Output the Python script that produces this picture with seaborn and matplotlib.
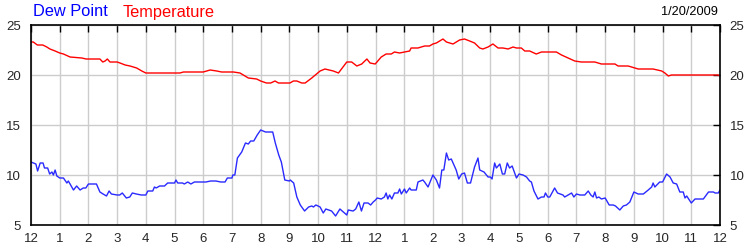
import numpy as np
import pandas as pd
import matplotlib
matplotlib.use("Agg")
import matplotlib.pyplot as plt
import seaborn as sns

# ---- data (hours since midnight, degrees) ----
dew_hours = [0, 0.09, 0.17, 0.23, 0.32, 0.42, 0.47, 0.58, 0.65, 0.73, 0.78, 0.84, 0.90, 1.0,
             1.13, 1.25, 1.30, 1.48, 1.59, 1.71, 1.82, 1.91, 2.0, 2.28, 2.40, 2.51, 2.63, 2.72,
             2.80, 3.0, 3.09, 3.18, 3.32, 3.44, 3.53, 3.67, 3.84, 4.0, 4.07, 4.24, 4.30, 4.36,
             4.48, 4.65, 4.76, 5.0, 5.05, 5.11, 5.28, 5.34, 5.46, 5.57, 5.69, 6.0, 6.09, 6.26,
             6.44, 6.61, 6.76, 6.84, 7.0, 7.03, 7.10, 7.19, 7.34, 7.47, 7.57, 7.65, 7.76, 7.88,
             8.0, 8.17, 8.34, 8.42, 8.51, 8.63, 8.72, 8.84, 9.0, 9.03, 9.15, 9.26, 9.38, 9.53,
             9.67, 9.78, 9.84, 9.92, 10.0, 10.07, 10.18, 10.27, 10.47, 10.61, 10.76, 11.0, 11.05,
             11.22, 11.31, 11.42, 11.51, 11.60, 11.74, 11.83, 11.92,
             12.0, 12.06, 12.2, 12.31, 12.37, 12.43, 12.49, 12.57, 12.66, 12.78, 12.84, 12.9,
             13.01, 13.07, 13.19, 13.24, 13.42, 13.48, 13.65, 13.71, 13.83, 14.0, 14.12, 14.23,
             14.31, 14.38, 14.47, 14.55, 14.64, 14.81, 14.9, 15.0, 15.1, 15.2, 15.31, 15.45,
             15.57, 15.63, 15.78, 15.92, 16.0, 16.06, 16.15, 16.21, 16.33, 16.42, 16.5, 16.59,
             16.67, 16.76, 16.91, 17.0, 17.14, 17.26, 17.37, 17.43, 17.52, 17.66, 17.78, 17.87,
             17.92, 18.0, 18.07, 18.24, 18.34, 18.53, 18.59, 18.71, 18.83, 18.91, 19.0, 19.12,
             19.29, 19.41, 19.5, 19.58, 19.64, 19.7, 19.78, 19.87, 20.0, 20.14, 20.28, 20.36,
             20.51, 20.63, 20.74, 20.86, 21.0, 21.15, 21.33, 21.5, 21.62, 21.67, 21.73, 21.9,
             22.0, 22.14, 22.26, 22.37, 22.49, 22.6, 22.72, 22.78, 22.84, 23.0, 23.13, 23.42,
             23.6, 23.77, 23.83, 23.94, 24.0]
dew_values = [11.3, 11.2, 11.1, 10.4, 11.2, 11.2, 10.7, 10.7, 10.1, 10.3, 10.0, 10.5, 9.9, 9.7,
              9.7, 9.2, 9.4, 8.5, 8.9, 8.5, 8.7, 8.7, 9.1, 9.1, 8.3, 8.1, 7.9, 8.4,
              8.1, 8.0, 8.0, 8.2, 7.7, 7.8, 8.2, 8.1, 8.0, 8.0, 8.4, 8.4, 8.8, 8.7,
              8.9, 8.9, 9.2, 9.2, 9.5, 9.2, 9.2, 9.1, 9.3, 9.1, 9.3, 9.3, 9.3, 9.4,
              9.4, 9.3, 9.3, 9.7, 9.7, 10.0, 10.0, 11.7, 12.3, 13.2, 13.1, 13.4, 13.4, 14.0,
              14.5, 14.3, 14.3, 14.3, 13.2, 12.0, 11.3, 9.5, 9.4, 9.5, 9.2, 7.8, 7.0, 6.4,
              6.8, 6.9, 6.8, 7.0, 6.9, 6.8, 6.2, 6.6, 6.4, 5.9, 6.6, 6.0, 6.5,
              6.4, 6.6, 7.3, 6.4, 7.2, 7.2, 7.0, 7.3,
              7.5, 7.7, 7.6, 7.8, 8.2, 7.6, 8.0, 7.6, 8.2, 8.2, 8.6, 8.1,
              8.6, 8.2, 8.7, 8.5, 8.5, 9.3, 9.5, 9.3, 8.8, 10.0, 9.5, 8.7,
              10.5, 10.5, 12.2, 11.5, 11.6, 10.5, 9.6, 10.1, 10.2, 9.2, 9.2, 10.8,
              11.7, 10.5, 10.3, 9.8, 9.8, 9.6, 11.2, 10.7, 11.1, 10.1, 10.1, 11.2,
              10.7, 10.9, 9.7, 10.1, 10.0, 9.8, 9.4, 9.3, 8.4, 7.6, 7.8, 7.8,
              8.2, 7.8, 7.8, 8.7, 8.2, 8.0, 7.8, 8.0, 8.2, 7.8, 8.1, 8.0,
              8.0, 8.4, 8.0, 7.8, 8.3, 7.7, 7.8, 7.6, 7.7, 7.0, 7.0, 6.9,
              6.5, 6.9, 7.0, 7.3, 8.3, 8.1, 8.1, 8.5, 8.8, 9.2, 8.8, 9.3,
              9.3, 10.1, 9.8, 9.2, 9.1, 8.3, 8.3, 7.7, 7.9, 7.2, 7.6, 7.6,
              8.3, 8.3, 8.2, 8.2, 8.5]

temp_hours = [0, 0.08, 0.22, 0.41, 0.55, 0.66, 0.84, 1.0, 1.13, 1.36, 1.77, 1.92, 2.0, 2.4,
              2.5, 2.58, 2.66, 2.75, 3.0, 3.1, 3.28, 3.45, 3.68, 3.86, 4.0, 4.38, 5.19, 5.31,
              6.0, 6.24, 6.47, 6.64, 7.05, 7.28, 7.57, 7.86, 8.0, 8.2, 8.35, 8.5, 8.62, 8.91,
              9.02, 9.14, 9.26, 9.43, 9.55, 9.78, 10.07, 10.24, 10.53, 10.71, 11.0, 11.17,
              11.35, 11.52, 11.7, 11.81, 11.99,
              12.2, 12.37, 12.55, 12.66, 12.84, 13.01, 13.19, 13.24, 13.48, 13.71, 13.88,
              14.0, 14.12, 14.35, 14.47, 14.7, 14.93, 15.1, 15.28, 15.45, 15.63, 15.74,
              15.92, 16.09, 16.27, 16.44, 16.62, 16.79, 16.91, 17.08, 17.2, 17.37, 17.6,
              17.78, 18.3, 18.48, 18.71, 18.94, 19.17, 19.64, 19.87, 20.34, 20.45, 20.8,
              20.92, 21.15, 21.67, 21.97, 22.08, 22.2, 22.31, 23.94, 24.0]
temp_values = [23.3, 23.3, 23.0, 23.0, 22.8, 22.6, 22.4, 22.2, 22.1, 21.8, 21.7, 21.6, 21.6, 21.6,
               21.3, 21.4, 21.6, 21.3, 21.3, 21.2, 21.0, 20.9, 20.7, 20.4, 20.2, 20.2, 20.2, 20.3,
               20.3, 20.5, 20.4, 20.3, 20.3, 20.2, 19.7, 19.6, 19.4, 19.2, 19.2, 19.4, 19.2, 19.2,
               19.2, 19.4, 19.4, 19.2, 19.2, 19.7, 20.4, 20.6, 20.4, 20.2, 21.3, 21.3,
               20.9, 21.1, 21.6, 21.2, 21.1,
               21.8, 22.1, 22.1, 22.3, 22.2, 22.3, 22.4, 22.7, 22.7, 22.9, 22.9,
               23.1, 23.2, 23.6, 23.3, 23.1, 23.5, 23.6, 23.4, 23.2, 22.7, 22.6,
               22.8, 23.1, 22.7, 22.7, 22.6, 22.8, 22.7, 22.7, 22.4, 22.4, 22.1,
               22.3, 22.3, 22.0, 21.7, 21.4, 21.3, 21.3, 21.1, 21.1, 20.9, 20.9,
               20.8, 20.6, 20.6, 20.4, 20.2, 19.9, 20.0, 20.0, 19.9]

tick_hours = list(range(0, 25))
tick_labels = ["12", "1", "2", "3", "4", "5", "6", "7", "8", "9", "10", "11",
               "12", "1", "2", "3", "4", "5", "6", "7", "8", "9", "10", "11", "12"]
y_ticks = [5, 10, 15, 20, 25]
date_label = "1/20/2009"

sns.set_style("white")
plt.rcParams["font.family"] = ["Liberation Sans", "DejaVu Sans"]

fig = plt.figure(figsize=(7.5, 2.5), dpi=100)
ax = fig.add_axes([31 / 750, 0.1, 689 / 750, 0.8])

dew_df = pd.DataFrame({"hour": dew_hours, "value": dew_values})
temp_df = pd.DataFrame({"hour": temp_hours, "value": temp_values})

sns.lineplot(data=dew_df, x="hour", y="value", ax=ax, color="#2a2aff",
             linewidth=1.0, estimator=None, sort=False)
sns.lineplot(data=temp_df, x="hour", y="value", ax=ax, color="#ff0000",
             linewidth=1.0, estimator=None, sort=False)

ax.set_xlim(0, 24)
ax.set_ylim(5, 25)
ax.set_xticks(tick_hours)
ax.set_xticklabels(tick_labels)
ax.set_yticks(y_ticks)
ax.set_xlabel("")
ax.set_ylabel("")
ax.grid(True, color="#cccccc", linewidth=1.0)
ax.set_axisbelow(True)
for s in ax.spines.values():
    s.set_color("black")
    s.set_linewidth(1.2)
ax.tick_params(axis="both", direction="in", length=5, width=1, color="black",
               labelsize=9.5, top=True, right=True, labelright=True, pad=5)
ax.tick_params(axis="y", pad=7)
ax.tick_params(axis="x", pad=6)

fig.text(33 / 750, 1 - 12 / 250, "Dew Point", color="#0000ff", fontsize=11.8, va="center", ha="left")
fig.text(123 / 750, 1 - 12 / 250, "Temperature", color="#ff0000", fontsize=11.8, va="center", ha="left")
fig.text(718 / 750, 1 - 12 / 250, date_label, color="black", fontsize=9.2, va="center", ha="right")

fig.savefig("out.png", dpi=100)
